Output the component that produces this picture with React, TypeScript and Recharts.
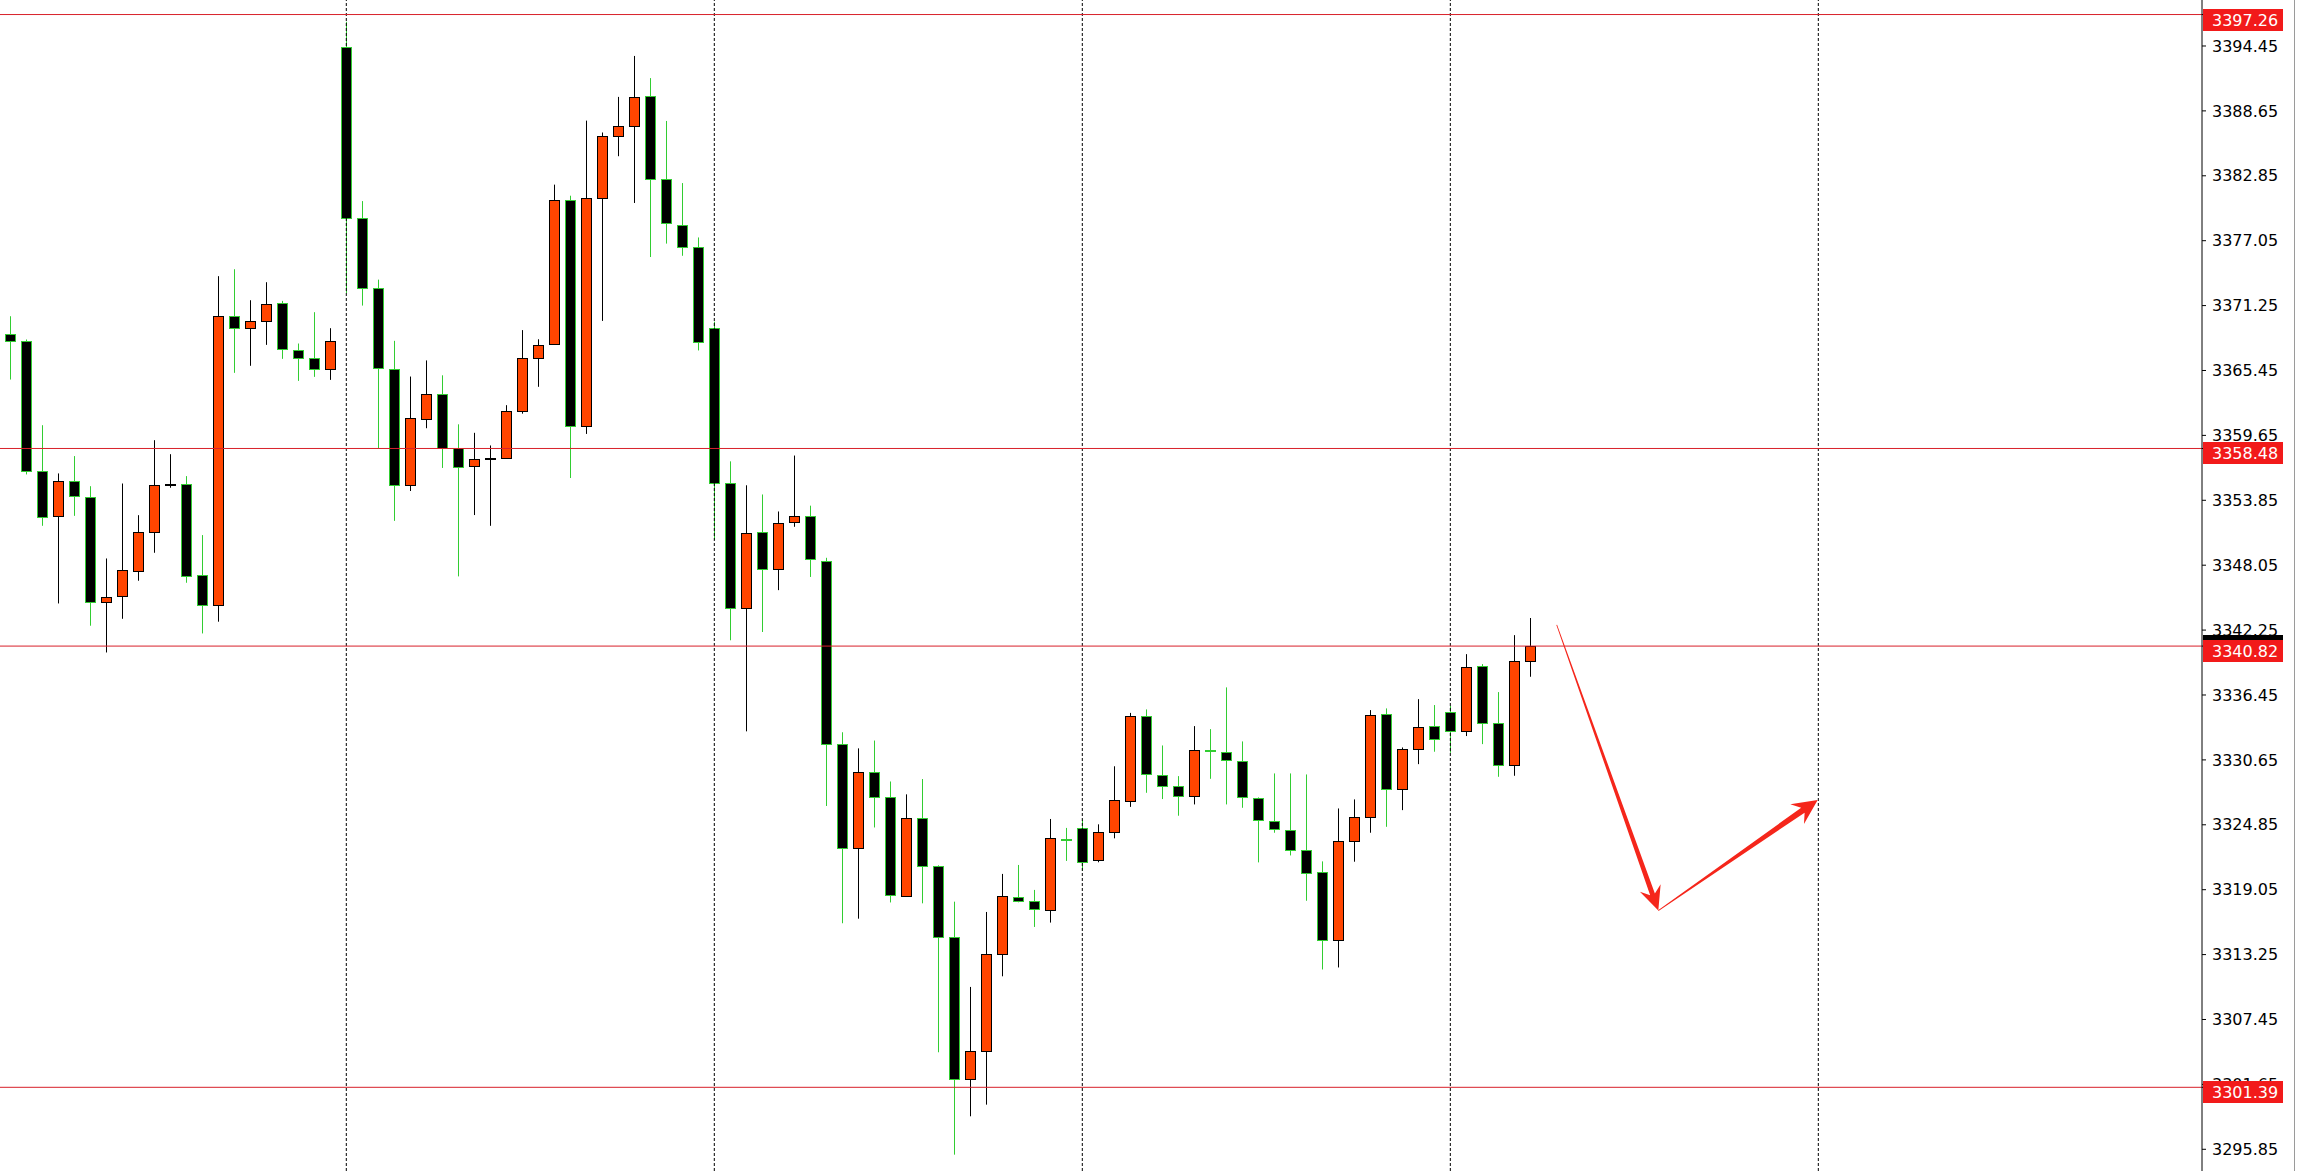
import React from 'react';
import { ComposedChart, Bar, XAxis, YAxis, ReferenceLine } from 'recharts';

const WIDTH = 2297;
const HEIGHT = 1171;
const FONT = '"DejaVu Sans", Tahoma, Verdana, sans-serif';

// OHLC, one entry per candle
const opens = [
  3368.75, 3368.07, 3356.43, 3352.49, 3355.53, 3354.16, 3344.72, 3345.26, 3347.55, 3350.98,
  3355.28, 3355.35, 3347.13, 3344.45, 3370.36, 3369.29, 3369.83, 3371.49, 3367.32, 3366.61,
  3365.54, 3394.38, 3379.12, 3372.86, 3365.6, 3355.26, 3361.15, 3363.37, 3358.51, 3356.87,
  3357.59, 3357.66, 3361.87, 3366.59, 3367.86, 3380.66, 3360.46, 3380.83, 3386.38, 3387.27,
  3389.94, 3382.54, 3378.47, 3376.45, 3369.26, 3355.41, 3344.26, 3351.04, 3347.67, 3351.93,
  3352.45, 3348.45, 3332.08, 3322.76, 3329.6, 3327.31, 3318.46, 3325.5, 3321.13, 3314.8,
  3302.1, 3304.61, 3313.28, 3318.43, 3318.01, 3317.21, 3323.6, 3324.54, 3321.68, 3324.18,
  3326.95, 3334.6, 3329.32, 3328.34, 3327.41, 3331.55, 3331.38, 3330.57, 3327.27, 3325.21,
  3324.41, 3322.59, 3320.65, 3314.55, 3323.36, 3325.57, 3334.77, 3328.01, 3331.58, 3333.7,
  3334.95, 3333.22, 3339.06, 3333.97, 3330.15, 3339.45,
];
const highs = [
  3370.3, 3368.22, 3360.56, 3356.25, 3357.8, 3355.11, 3348.65, 3355.35, 3352.52, 3359.22,
  3357.97, 3356.01, 3350.74, 3373.88, 3374.5, 3371.73, 3373.34, 3371.67, 3367.86, 3370.66,
  3369.23, 3396.61, 3380.59, 3373.57, 3368.1, 3364.91, 3366.35, 3365.02, 3360.64, 3359.88,
  3358.75, 3362.35, 3369.06, 3368.24, 3382.06, 3381.07, 3387.78, 3386.72, 3389.9, 3393.56,
  3391.58, 3387.75, 3382.2, 3377.34, 3369.81, 3357.33, 3355.19, 3354.37, 3352.85, 3357.85,
  3353.37, 3348.71, 3333.12, 3331.68, 3332.38, 3328.72, 3327.57, 3328.94, 3321.23, 3317.98,
  3310.36, 3317.06, 3320.46, 3321.26, 3319.03, 3325.37, 3324.57, 3325.31, 3324.89, 3330.08,
  3334.85, 3335.16, 3331.94, 3329.2, 3333.67, 3333.4, 3337.13, 3332.3, 3327.3, 3329.44,
  3329.44, 3329.35, 3321.58, 3326.31, 3327.12, 3335.1, 3335.25, 3331.76, 3336.08, 3335.55,
  3335.46, 3340.1, 3339.21, 3336.71, 3341.8, 3343.33,
];
const lows = [
  3364.64, 3356.16, 3351.57, 3344.63, 3352.46, 3342.64, 3340.25, 3343.26, 3346.66, 3349.16,
  3354.97, 3346.48, 3341.95, 3343.0, 3365.24, 3365.87, 3367.74, 3366.49, 3364.52, 3364.88,
  3364.61, 3372.38, 3371.25, 3358.51, 3352.01, 3354.68, 3360.29, 3356.74, 3347.05, 3352.53,
  3351.57, 3357.6, 3361.59, 3363.99, 3367.86, 3355.84, 3359.78, 3369.88, 3384.6, 3380.42,
  3375.59, 3376.79, 3375.7, 3367.24, 3350.3, 3341.34, 3333.2, 3342.08, 3345.82, 3351.48,
  3347.0, 3326.53, 3316.05, 3316.46, 3324.61, 3317.91, 3318.46, 3317.83, 3304.52, 3295.37,
  3298.8, 3299.84, 3311.31, 3317.92, 3315.72, 3316.11, 3321.62, 3320.75, 3321.5, 3323.64,
  3326.45, 3327.71, 3327.15, 3325.66, 3326.67, 3328.96, 3326.67, 3326.37, 3321.49, 3324.14,
  3322.11, 3318.06, 3311.92, 3312.1, 3321.55, 3324.14, 3324.67, 3326.16, 3330.27, 3331.38,
  3331.29, 3332.78, 3332.06, 3329.14, 3329.23, 3338.08,
];
const closes = [
  3368.07, 3356.51, 3352.4, 3355.53, 3354.19, 3344.75, 3345.23, 3347.58, 3350.98, 3355.26,
  3355.33, 3347.04, 3344.45, 3370.36, 3369.29, 3369.83, 3371.43, 3367.35, 3366.61, 3365.57,
  3368.13, 3379.12, 3372.79, 3365.63, 3355.19, 3361.22, 3363.37, 3358.51, 3356.8, 3357.56,
  3357.64, 3361.87, 3366.59, 3367.76, 3380.66, 3360.46, 3380.83, 3386.38, 3387.27, 3389.87,
  3382.58, 3378.61, 3376.48, 3368.0, 3355.43, 3344.26, 3350.93, 3347.74, 3351.82, 3352.45,
  3348.56, 3332.05, 3322.76, 3329.6, 3327.31, 3318.54, 3325.5, 3321.16, 3314.78, 3302.1,
  3304.61, 3313.28, 3318.46, 3318.01, 3317.3, 3323.64, 3323.5, 3321.5, 3324.18, 3327.04,
  3334.57, 3329.35, 3328.31, 3327.41, 3331.5, 3331.45, 3330.63, 3327.3, 3325.24, 3324.47,
  3322.59, 3320.53, 3314.55, 3323.36, 3325.57, 3334.68, 3328.01, 3331.58, 3333.61, 3332.51,
  3333.22, 3338.97, 3333.99, 3330.15, 3339.45, 3340.82,
];

const priceTicks = [
  3394.45, 3388.65, 3382.85, 3377.05, 3371.25, 3365.45, 3359.65, 3353.85, 3348.05,
  3342.25, 3336.45, 3330.65, 3324.85, 3319.05, 3313.25, 3307.45, 3301.65, 3295.85,
];
const levels = [3397.26, 3358.48, 3340.82, 3301.39];
const currentPrice = 3340.82;
const dayBreaks = [21, 44, 67, 90, 113];

// hand-drawn forecast arrows, in bar index / price units
const arrowDown = [
  { x: 96.65, y: 3342.71 },
  { x: 103.0, y: 3317.18 },
];
const arrowUp = [
  { x: 103.0, y: 3317.18 },
  { x: 112.96, y: 3327.07 },
];

const candles = opens.map((open, i) => ({
  i,
  open,
  high: highs[i],
  low: lows[i],
  close: closes[i],
  range: [lows[i], highs[i]],
}));

// level tags go last so they paint over the regular price labels
const axisTicks = [...priceTicks, ...levels];

const UP_FILL = '#FF4500';
const DOWN_EDGE = '#32CD32';
const LINE_RED = '#D8202A';
const TAG_RED = '#F21A1A';
const ARROW_RED = '#F5261B';

function Candle(props: any) {
  const { x, y, width, height, payload } = props;
  if (!payload) return null;
  const { open, close, high, low } = payload;
  const top = Math.min(y, y + height);
  const h = Math.abs(height);
  const span = high - low || 1;
  const py = (v: number) => top + ((high - v) / span) * h;
  const cx = Math.round(x + width / 2) + 0.5;
  const up = close >= open;
  const edge = up ? '#000' : DOWN_EDGE;
  const bTop = Math.round(py(Math.max(open, close)));
  const bBot = Math.round(py(Math.min(open, close)));
  const bh = Math.max(bBot - bTop, 1);
  return (
    <g>
      <line x1={cx} x2={cx} y1={top} y2={top + h} stroke={edge} strokeWidth={1} />
      <rect
        x={cx - 5}
        y={bTop + 0.5}
        width={10}
        height={bh}
        fill={up ? UP_FILL : '#000'}
        stroke={edge}
        strokeWidth={1}
      />
    </g>
  );
}

function TaperArrow(props: any) {
  const { x1, y1, x2, y2, headLen = 24, headHalf = 11, neckWidth = 5 } = props;
  const len = Math.hypot(x2 - x1, y2 - y1) || 1;
  const ux = (x2 - x1) / len;
  const uy = (y2 - y1) / len;
  const nx = -uy;
  const ny = ux;
  const neckX = x2 - ux * headLen * 0.72;
  const neckY = y2 - uy * headLen * 0.72;
  const baseX = x2 - ux * headLen;
  const baseY = y2 - uy * headLen;
  const pts = [
    [x1 + nx * 0.4, y1 + ny * 0.4],
    [neckX + (nx * neckWidth) / 2, neckY + (ny * neckWidth) / 2],
    [baseX + nx * headHalf, baseY + ny * headHalf],
    [x2, y2],
    [baseX - nx * headHalf, baseY - ny * headHalf],
    [neckX - (nx * neckWidth) / 2, neckY - (ny * neckWidth) / 2],
    [x1 - nx * 0.4, y1 - ny * 0.4],
  ];
  return <polygon points={pts.map((p) => p.join(',')).join(' ')} fill={ARROW_RED} />;
}

function PriceTick(props: any) {
  const { x, y, payload } = props;
  const v = payload.value;
  if (levels.includes(v)) {
    const left = x - 9;
    const yy = Math.round(y);
    return (
      <g>
        {v === currentPrice && <rect x={left} y={yy - 11} width={80} height={5} fill="#000" />}
        <rect x={left} y={yy - 6} width={80} height={22} fill={TAG_RED} />
        <text x={left + 9} y={yy + 5} dy="0.355em" fill="#fff" fontSize={16} fontFamily={FONT}>
          {v.toFixed(2)}
        </text>
      </g>
    );
  }
  return (
    <text x={x} y={y} dy="0.355em" fill="#000" fontSize={16} fontFamily={FONT}>
      {v.toFixed(2)}
    </text>
  );
}

export default function App() {
  return (
    <div
      style={{
        position: 'fixed',
        left: 0,
        top: 0,
        width: WIDTH,
        height: HEIGHT,
        background: '#fff',
        fontFamily: FONT,
      }}
    >
      <ComposedChart
        width={WIDTH}
        height={HEIGHT}
        data={candles}
        margin={{ top: 0, right: 0, bottom: 0, left: 0 }}
      >
        <XAxis
          dataKey="i"
          type="number"
          domain={[-0.644, 136.98]}
          allowDataOverflow
          hide
        />
        <YAxis
          orientation="right"
          width={95}
          domain={[3293.91, 3398.56]}
          allowDataOverflow
          ticks={axisTicks}
          interval={0}
          tickSize={4}
          tickMargin={6}
          axisLine={{ stroke: '#000' }}
          tickLine={{ stroke: '#000' }}
          tick={(p: any) => <PriceTick {...p} />}
        />
        {dayBreaks.map((d) => (
          <ReferenceLine key={'d' + d} x={d} stroke="#000" strokeDasharray="3 2" />
        ))}
        {levels.map((p) => (
          <ReferenceLine key={'l' + p} y={p} stroke={LINE_RED} strokeWidth={1} />
        ))}
        <Bar
          dataKey="range"
          barSize={10}
          isAnimationActive={false}
          shape={(p: any) => <Candle {...p} />}
        />
        <ReferenceLine
          segment={arrowDown}
          ifOverflow="visible"
          shape={(p: any) => <TaperArrow {...p} headLen={24} headHalf={11} neckWidth={5} />}
        />
        <ReferenceLine
          segment={arrowUp}
          ifOverflow="visible"
          shape={(p: any) => <TaperArrow {...p} headLen={25} headHalf={12} neckWidth={6} />}
        />
      </ComposedChart>
      <div
        style={{
          position: 'absolute',
          left: WIDTH - 3,
          top: 0,
          width: 1,
          height: HEIGHT,
          background: '#9a9a9a',
        }}
      />
    </div>
  );
}
